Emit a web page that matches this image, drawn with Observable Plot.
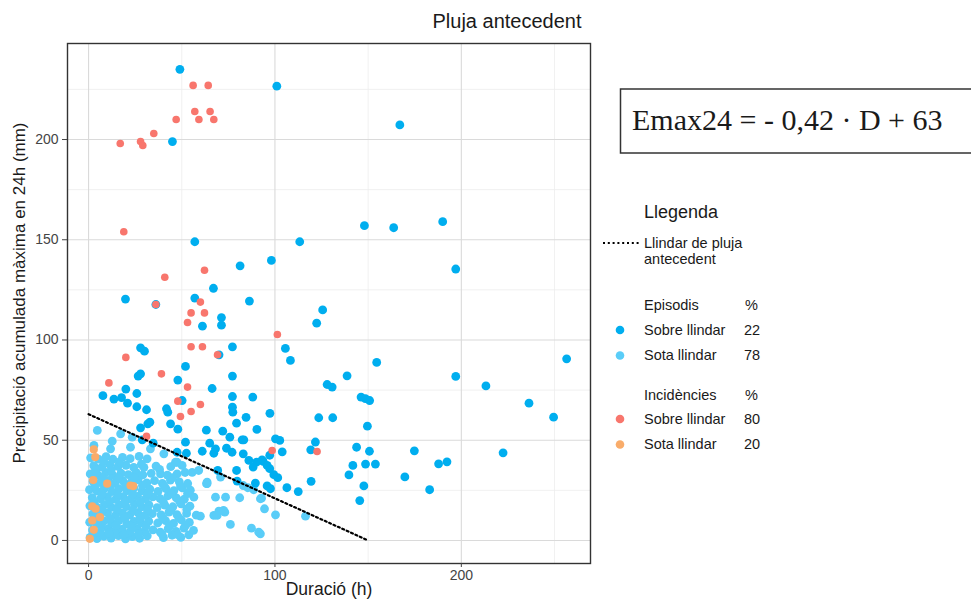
<!DOCTYPE html>
<html><head><meta charset="utf-8">
<script src="https://cdn.jsdelivr.net/npm/d3@7"></script>
<script src="https://cdn.jsdelivr.net/npm/@observablehq/plot@0.6"></script>
<style>
body{margin:0;background:#fff;}
#wrap{position:relative;width:971px;height:599px;overflow:hidden;background:#fff;}
</style></head><body><div id="wrap"></div>
<script>
// ---- data (Duració h, Precipitació mm) ----
const episodisSobre = [
[49,235],[101,226.6],[45,199],[167,207.3],[148,157],[163.7,156],[190,159],[113.3,149],[57,149],[81.3,137],[98.1,139.7],[197,135.4],
[67,125.8],[19.8,120.4],[36.1,117.7],[57,120.9],[86.3,119.4],[71.3,111.2],[61.1,106.9],[71.3,107.4],[125.6,115],[122.4,108.4],
[27.9,96.1],[30,94.4],[70,92.6],[77.2,96.6],[105.6,95.8],[108.3,89.8],[154.6,88.8],[256.5,90.6],[52,86.8],[27.9,83.1],[26.6,82],
[47.9,80],[77.2,82],[138.7,82.1],[197,81.8],[213.2,77.1],[128,77.8],[130.7,76.5],[66.3,75.8],[20,75.5],[7.7,72.2],[13.6,70.5],
[17.7,71.2],[20.9,68.5],[25.9,73.3],[25.9,66.7],[31.1,65.2],[50.2,69.8],[77.2,71.8],[88.1,71.5],[77.2,66.5],[77.4,64],[84.5,61.4],
[97.3,63.4],[41.8,65.7],[42.5,64],[32.9,59],[31.8,58.2],[79.4,58.5],[123.5,61.2],[131,61.2],[146.2,71.5],[148.5,70.7],[150.8,69.8],
[236.3,68.5],[249.5,61.5],[149.6,57],[27.9,56.2],[47.9,55.5],[63.2,55],[72,54.5],[90.3,55.4],[44,58.2],[34.7,48.5],[28.8,50.2],
[100.3,50.7],[102.6,49.9],[103.9,44.2],[121.7,49.1],[119.2,45.2],[143.8,46.5],[150.7,44.5],[174.8,44.7],[222.4,43.7],[187.8,38.2],
[192.3,39.2],[141.8,37.4],[148.6,38.1],[153.9,38.1],[139.7,32.7],[169.7,31.7],[147.7,27.2],[183,25.3],[145.5,19.9],[93.7,39.4],
[97.2,42.5],[97.2,35.8],[99.4,32.8],[101.5,31.3],[106.4,26.3],[112.5,24.4],[119.4,29.5],[95.8,27.2],[97.6,25.8],
[75.8,51.5],[52,49],[65,48.5],[83.3,50.2],[61,44.5],[67.2,43.5],[68.1,45.7],[74,46],[77,44],[47.5,44],[52.5,43.5],[83,43.2],
[86,39.9],[90.1,39.1],[93.1,40.2],[88.3,36.6],[69.3,34.9],[79.4,34.9],[89.5,28.6],[79.7,29.6],[95.8,37.4],[82.4,50.2]
];
const episodisSota = [
[4.7,54.9],[92.8,21.1],[94.4,15.8],[100.3,12.8],[116.4,12.1],[92.2,3.3],[46.6,39],[63.3,28.3],[70.8,31.6],[73.5,21.6],[68.1,21.6],
[81.1,21.3],[85.4,26.3],[92.2,20.8],[60,12.1],[67.2,12.5],[69.9,14.6],[73.1,14.1],[76.1,8],[87.4,6.1],[91.3,4.1],[63.6,28.4],
[69,12.5],[72.4,15],[83,27.4],[88.6,25.3],[17.2,53.2],[12.7,49.5],[23.4,51.5],[2.9,47.4],[11.8,45.7],[22.5,46.5],[33.2,45.7],
[40.4,43.2],[47.5,39],[47.5,33.2],[55.6,34],[59.1,34.9],[63.6,29.1],[56.5,21.6],[38.6,33.2],[29.7,36.5],
[0.8,1.5],[4.5,0.9],[8.2,2.1],[12.1,1.2],[16,2.4],[19.8,0.8],[23.5,1.9],[27.4,1.1],[31.5,2.3],[40.2,1.4],[44.8,2.6],[49.5,1.5],[53.8,2.8],
[2.1,5.2],[6.3,4.4],[10.4,5.9],[14.2,4.7],[18.1,5.6],[22.3,4.3],[26.2,5.8],[30.1,4.6],[34.6,5.3],[38.5,4.1],[42.7,5.9],[46.9,4.5],[51.2,6.1],[56.3,5.0],
[0.6,9.1],[4.2,8.4],[8.3,9.7],[12.4,8.6],[16.3,9.9],[20.5,8.3],[24.4,9.5],[28.2,8.8],[32.3,9.6],[37.1,8.7],[41.3,9.9],[45.6,8.5],[49.8,10.2],[54.1,9.0],
[2.3,13.2],[6.1,12.6],[10.2,13.8],[14.4,12.4],[18.3,13.6],[22.1,12.7],[26.4,13.9],[30.3,12.5],[34.2,13.4],[38.9,12.8],[43.1,14.1],[47.4,12.9],[52.6,13.5],[57.8,12.6],
[0.7,17.3],[4.4,16.6],[8.5,17.9],[12.3,16.5],[16.5,17.7],[20.2,16.9],[24.6,18.1],[28.5,16.7],[32.4,17.8],[36.8,16.4],[40.9,17.6],[45.2,16.8],[49.6,18.2],[54.4,17.1],
[2.0,21.4],[6.4,20.7],[10.1,21.9],[14.6,20.5],[18.6,21.8],[22.5,20.6],[26.3,22.0],[30.6,20.8],[34.5,21.7],[38.4,20.9],[42.6,22.3],[47.1,21.2],[51.4,20.6],
[0.5,25.3],[4.6,24.6],[8.4,25.8],[12.5,24.4],[16.4,25.9],[20.6,24.8],[24.3,26.1],[28.7,24.7],[32.9,25.6],[37.3,24.5],[41.5,25.9],[45.8,24.9],[50.3,26.2],[54.6,25.1],
[2.4,29.4],[6.2,28.8],[10.5,30.0],[14.1,28.6],[18.4,29.7],[22.7,28.9],[26.6,30.2],[31.2,28.7],[35.4,29.8],[39.6,28.5],[43.9,30.1],[48.7,29.2],[53.2,28.4],
[0.9,33.2],[5.1,32.6],[9.3,33.9],[13.2,32.4],[17.4,33.6],[21.3,32.8],[25.5,34.0],[29.1,32.7],[33.6,33.5],[42.3,32.6],[51.8,33.9],
[2.8,37.3],[7.1,36.6],[11.4,37.8],[15.8,36.9],[20.1,37.5],[24.2,36.4],[28.3,38.0],[36.2,37.1],[44.1,36.8],[50.2,37.4],
[1.1,41.2],[5.3,40.6],[9.4,41.8],[13.1,40.5],[18.2,41.4],[22.3,40.8],[27.1,41.9],[31.4,40.7],
[2.6,3.1],[6.8,7.2],[10.9,3.6],[14.7,7.4],[18.9,2.9],[22.8,7.1],[26.9,3.3],[30.8,7.3],[3.1,11.2],[7.4,15.1],[11.6,10.8],
[15.3,15.4],[19.6,11.3],[23.7,15.2],[27.6,11.1],[31.7,15.3],[2.9,19.2],[7.2,23.1],[11.3,19.5],[15.6,22.9],[19.4,19.3],[23.6,23.2],
[27.8,19.4],[31.9,23.4],[3.4,27.2],[7.6,31.1],[11.9,27.3],[16.1,31.4],[20.2,27.1],[24.5,31.2],[28.9,27.4],[3.7,35.2],[8.1,39.3],
[12.2,35.1],[16.6,39.2],[39.4,3.1],[43.6,7.4],[47.8,2.9],[52.1,7.6],[39.9,11.1],[44.2,15.2],[48.4,11.4],[52.7,15.6],[40.1,19.3],
[44.5,23.2],[48.8,19.6],[53.1,23.4],[40.6,27.2],[45.1,31.3],[49.3,27.1],[38.1,35.4]
];
const incidenciesSobre = [
[56.1,227],[64.2,227],[57,214],[65.2,214],[47,210],[59.2,210],[67.2,210],[35,203],[17,198],[27.9,199],[29.1,197],[18.9,154],
[40.9,131.3],[62.2,134.8],[36.1,117.7],[60,118.9],[55,113.5],[62.2,113.5],[53.1,108.7],[101.3,102.7],[20,91.3],[55,96.6],[61.1,96.6],
[69.2,92.6],[39.1,83.1],[10.9,78.6],[53.1,76.5],[47.9,69.5],[60,67.8],[55,64.3],[49.3,61.8],[31.1,51.9],[98.5,44.9],[122.6,44.4]
];
const incidenciesSota = [
[2.8,45.4],[3.6,41.6],[2.5,30.1],[10,28.3],[22.5,27.4],[24,27.1],[2,17],[3.8,15.8],[6.1,11.6],[2,10],[2.8,5.3],[0.7,0.8]
];
const llindarD = [0, 150];
const llindarE = [63, 0];
const xTicks = [0, 100, 200];
const yTicks = [0, 50, 100, 150, 200];
const xMinor = [50, 150, 250];
const yMinor = [25, 75, 125, 175, 225];
const legendEpisodis = [["Sobre llindar", "22"], ["Sota llindar", "78"]];
const legendIncidencies = [["Sobre llindar", "80"], ["Sota llindar", "20"]];

const C = {epS: "#00AEEF", epB: "#5ACDF8", inS: "#F8766D", inB: "#F9AC6A"};
const line = llindarD.map((d, i) => ({d, e: llindarE[i]}));

const chart = Plot.plot({
  width: 971, height: 599,
  marginLeft: 67, marginTop: 43, marginRight: 381, marginBottom: 36,
  style: {fontFamily: "Liberation Sans, Arial, sans-serif", fontSize: "14px", background: "#fff"},
  x: {domain: [-11.3, 269.3], label: null},
  y: {domain: [-11.5, 247.9], label: null},
  marks: [
    Plot.gridX(xMinor, {stroke: "#ececec", strokeOpacity: 1, strokeWidth: 0.8}),
    Plot.gridY(yMinor, {stroke: "#ececec", strokeOpacity: 1, strokeWidth: 0.8}),
    Plot.gridX(xTicks, {stroke: "#dadada", strokeOpacity: 1, strokeWidth: 1.1}),
    Plot.gridY(yTicks, {stroke: "#dadada", strokeOpacity: 1, strokeWidth: 1.1}),
    Plot.dot(episodisSota, {x: d => d[0], y: d => d[1], r: 4.4, fill: C.epB}),
    Plot.dot(episodisSobre, {x: d => d[0], y: d => d[1], r: 4.4, fill: C.epS}),
    Plot.dot(incidenciesSota, {x: d => d[0], y: d => d[1], r: 4.1, fill: C.inB}),
    Plot.dot(incidenciesSobre, {x: d => d[0], y: d => d[1], r: 3.8, fill: C.inS}),
    Plot.line(line, {x: "d", y: "e", stroke: "#000", strokeWidth: 2.2, strokeDasharray: "2,2.8"}),
    Plot.frame({stroke: "#333", strokeWidth: 1.4}),
    Plot.axisX({ticks: xTicks, tickSize: 4, tickPadding: 3, color: "#444", fontSize: 14, label: null}),
    Plot.axisY({ticks: yTicks, tickSize: 5, tickPadding: 4, color: "#444", fontSize: 14, label: null})
  ]
});
document.getElementById("wrap").appendChild(chart);

const svg = d3.select(chart);
const g = svg.append("g").attr("font-family", "Liberation Sans, Arial, sans-serif").attr("fill", "#1a1a1a").attr("text-anchor", "start");
// title
g.append("text").attr("x", 507).attr("y", 28).attr("text-anchor", "middle").attr("font-size", 20).text("Pluja antecedent");
// axis titles
g.append("text").attr("x", 329).attr("y", 595).attr("text-anchor", "middle").attr("font-size", 17.5).text("Duració (h)");
g.append("text").attr("transform", "translate(25,293) rotate(-90)").attr("text-anchor", "middle").attr("font-size", 17).text("Precipitació acumulada màxima en 24h (mm)");
// equation box
g.append("rect").attr("x", 620.5).attr("y", 89).attr("width", 360).attr("height", 64).attr("fill", "none").attr("stroke", "#333").attr("stroke-width", 1.5);
g.append("text").attr("x", 632).attr("y", 130).attr("font-family", "Liberation Serif, Times New Roman, serif").attr("font-size", 30).text("Emax24 = - 0,42 · D + 63");
// legend
g.append("text").attr("x", 644).attr("y", 217.5).attr("font-size", 18).text("Llegenda");
g.append("line").attr("x1", 603).attr("x2", 639).attr("y1", 243).attr("y2", 243).attr("stroke", "#000").attr("stroke-width", 2.2).attr("stroke-dasharray", "2,2.8");
g.append("text").attr("x", 644).attr("y", 247.5).attr("font-size", 14.5).text("Llindar de pluja");
g.append("text").attr("x", 644).attr("y", 263.5).attr("font-size", 14.5).text("antecedent");
g.append("text").attr("x", 644).attr("y", 309.5).attr("font-size", 14.5).text("Episodis");
g.append("text").attr("x", 745).attr("y", 309.5).attr("font-size", 14.5).text("%");
legendEpisodis.forEach((r, i) => {
  const cy = 330 + i * 25.5;
  g.append("circle").attr("cx", 620).attr("cy", cy).attr("r", 4.3).attr("fill", i === 0 ? C.epS : C.epB);
  g.append("text").attr("x", 644).attr("y", cy + 4.5).attr("font-size", 14.5).text(r[0]);
  g.append("text").attr("x", 744).attr("y", cy + 4.5).attr("font-size", 14.5).text(r[1]);
});
g.append("text").attr("x", 644).attr("y", 400).attr("font-size", 14.5).text("Incidències");
g.append("text").attr("x", 745).attr("y", 400).attr("font-size", 14.5).text("%");
legendIncidencies.forEach((r, i) => {
  const cy = 419 + i * 25.5;
  g.append("circle").attr("cx", 620).attr("cy", cy).attr("r", 4.3).attr("fill", i === 0 ? C.inS : C.inB);
  g.append("text").attr("x", 644).attr("y", cy + 4.5).attr("font-size", 14.5).text(r[0]);
  g.append("text").attr("x", 744).attr("y", cy + 4.5).attr("font-size", 14.5).text(r[1]);
});
</script></body></html>
